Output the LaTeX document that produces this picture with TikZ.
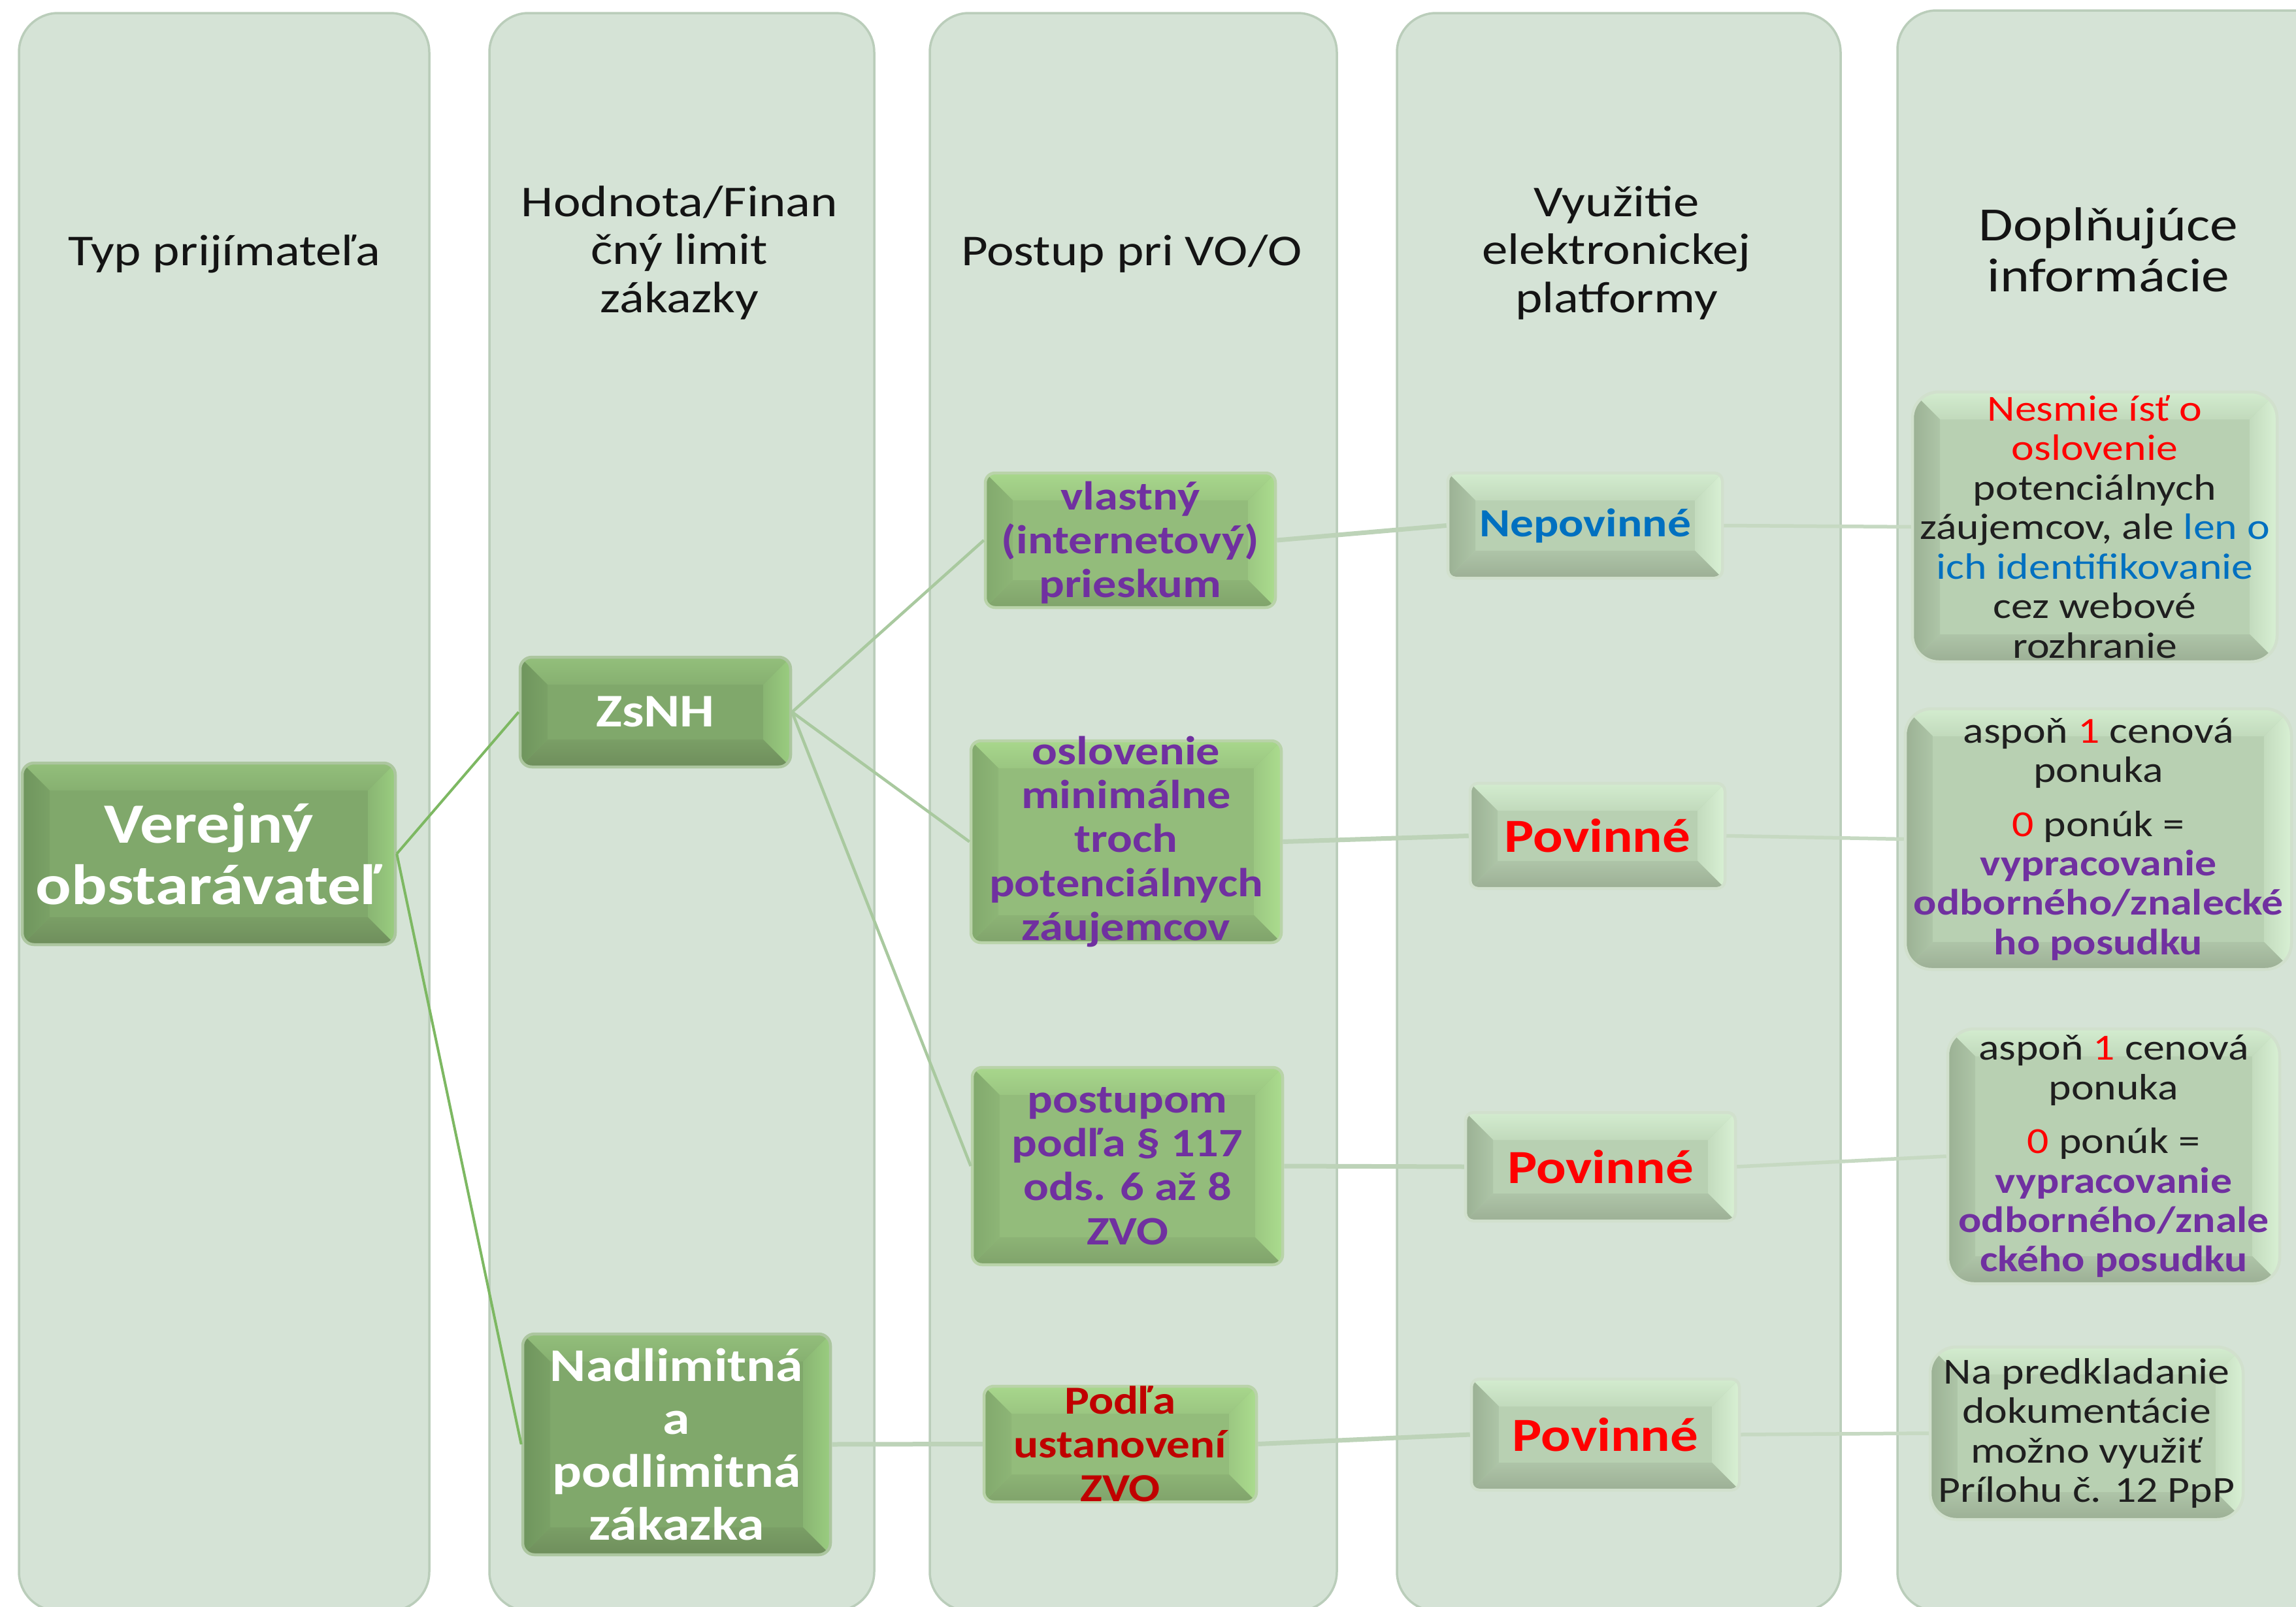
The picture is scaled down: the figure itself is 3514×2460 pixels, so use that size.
\documentclass[tikz,border=0pt]{standalone}
\usepackage{fontspec}
\setmainfont{Carlito}[FakeStretch=1.17]
\definecolor{laneC}{HTML}{D5E3D6}
\definecolor{laneE}{HTML}{BACDBA}
\definecolor{dkB}{HTML}{80A86B}
\definecolor{dkT}{HTML}{93BF7B}
\definecolor{dkR}{HTML}{9ACD80}
\definecolor{dkD}{HTML}{6F8E5C}
\definecolor{dkL}{HTML}{6F955D}
\definecolor{mdB}{HTML}{93BC7B}
\definecolor{mdT}{HTML}{A8D78C}
\definecolor{mdR}{HTML}{ABDC8E}
\definecolor{mdD}{HTML}{80A36B}
\definecolor{mdL}{HTML}{82A96D}
\definecolor{plB}{HTML}{B8D0B2}
\definecolor{plT}{HTML}{D3ECCF}
\definecolor{plR}{HTML}{D8F0D4}
\definecolor{plD}{HTML}{9CAF95}
\definecolor{plL}{HTML}{9BB194}
\definecolor{cA}{HTML}{7DB862}
\definecolor{cB}{HTML}{A9C99F}
\definecolor{cC}{HTML}{BDD3B8}
\definecolor{cD}{HTML}{C6D9C2}
\definecolor{purp}{HTML}{7030A0}
\definecolor{dred}{HTML}{C00000}
\definecolor{bl}{HTML}{0070C0}
\definecolor{rd}{HTML}{FF0000}
\newlength{\bevw}
\setlength{\bevw}{4.2mm}
\tikzset{
  lane/.style={fill=laneC, draw=laneE, line width=0.35mm, rounded corners=6mm},
  hdr/.style={align=center, text=black!92, inner sep=0pt, font=\fontsize{19.2}{21}\selectfont},
  bevbox/.style n args={6}{rounded corners=#6, fill=#1, draw=#1!65!white, line width=0.45mm,
    path picture={
      \coordinate (pNW) at (path picture bounding box.north west);
      \coordinate (pNE) at (path picture bounding box.north east);
      \coordinate (pSW) at (path picture bounding box.south west);
      \coordinate (pSE) at (path picture bounding box.south east);
      \shade[sharp corners, top color=#2, bottom color=#2!35!#1] (pNW) -- (pNE) -- ([shift={(-\bevw,-\bevw)}]pNE) -- ([shift={(\bevw,-\bevw)}]pNW) -- cycle;
      \shade[sharp corners, left color=#3!35!#1, right color=#3] (pNE) -- (pSE) -- ([shift={(-\bevw,\bevw)}]pSE) -- ([shift={(-\bevw,-\bevw)}]pNE) -- cycle;
      \shade[sharp corners, top color=#4!35!#1, bottom color=#4] (pSE) -- (pSW) -- ([shift={(\bevw,\bevw)}]pSW) -- ([shift={(-\bevw,\bevw)}]pSE) -- cycle;
      \shade[sharp corners, left color=#5, right color=#5!35!#1] (pSW) -- (pNW) -- ([shift={(\bevw,-\bevw)}]pNW) -- ([shift={(\bevw,\bevw)}]pSW) -- cycle;
    }},
  dkbox/.style={bevbox={dkB}{dkT}{dkR}{dkD}{dkL}{1.8mm}},
  mdbox/.style={bevbox={mdB}{mdT}{mdR}{mdD}{mdL}{1.5mm}},
  plbox/.style={bevbox={plB}{plT}{plR}{plD}{plL}{1.2mm}},
  infobox/.style={bevbox={plB}{plT}{plR}{plD}{plL}{4mm}},
  sz/.style 2 args={minimum width=#1mm, minimum height=#2mm, inner sep=0pt},
  wbig/.style={align=center, text=white, inner sep=0pt, font=\bfseries\fontsize{24.8}{26.7}\selectfont},
  wtx/.style={align=center, text=white, inner sep=0pt, font=\bfseries\fontsize{20.4}{23}\selectfont},
  ptx/.style={align=center, text=purp, inner sep=0pt, font=\bfseries\fontsize{17.6}{19.1}\selectfont},
  rtx/.style={align=center, text=dred, inner sep=0pt, font=\bfseries\fontsize{17.3}{19.1}\selectfont},
  btx/.style={align=center, text=bl, inner sep=0pt, font=\bfseries\fontsize{17.4}{19}\selectfont},
  povtx/.style={align=center, text=rd, inner sep=0pt, font=\bfseries\fontsize{20.7}{22}\selectfont},
  itx/.style={align=center, text=black!88, inner sep=0pt, font=\fontsize{16}{17.2}\selectfont},
  conA/.style={draw=cA, line width=0.4mm},
  conB/.style={draw=cB, line width=0.45mm},
  conC/.style={draw=cC, line width=0.7mm},
  conD/.style={draw=cD, line width=0.55mm},
}
\begin{document}
\begin{tikzpicture}[x=0.1mm,y=-0.1mm]
\useasboundingbox (0,0) rectangle (3514,2460);
\fill[white] (0,0) rectangle (3514,2460);
% lanes
\draw[lane] (29,20) rectangle (657,2466);
\draw[lane] (749,20) rectangle (1338,2466);
\draw[lane] (1423,20) rectangle (2046,2466);
\draw[lane] (2138,20) rectangle (2817,2466);
\draw[lane] (2904,16) rectangle (3620,2466);
% headers
\node[hdr] (h1) at (343,389) {Typ prijímateľa};
\node[hdr] (h2) at (1040,387) {Hodnota/Finan\\čný limit\\zákazky};
\node[hdr] (h3) at (1732,389) {Postup pri VO/O};
\node[hdr] (h4) at (2474,387) {Využitie\\elektronickej\\platformy};
\node[hdr, font=\fontsize{20.8}{22.2}\selectfont] (h5) at (3227,382) {Doplňujúce\\informácie};
% boxes
\node[dkbox, sz={57.1}{27.8}] (vo) at (319.5,1307) {};
\node[dkbox, sz={41.4}{16.8}] (zsnh) at (1003,1090) {};
\node[dkbox, sz={47.1}{33.8}] (nad) at (1035.5,2211) {};
\node[mdbox, sz={44.4}{20.6}] (vla) at (1730,827) {};
\node[mdbox, sz={47.5}{30.9}] (osl) at (1723.5,1288.5) {};
\node[mdbox, sz={47.5}{30.2}] (pos) at (1725.5,1785) {};
\node[mdbox, sz={41.7}{17.7}] (pod) at (1714.5,2210.5) {};
\node[plbox, sz={42.0}{16.1}] (nep) at (2426,804.5) {};
\node[plbox, sz={39.0}{16.1}] (pov1) at (2445,1279.5) {};
\node[plbox, sz={41.3}{16.6}] (pov2) at (2449.5,1786) {};
\node[plbox, sz={41.0}{17.0}] (pov3) at (2457,2196) {};
\node[infobox, sz={55.8}{41.3}] (inf1) at (3206,806.5) {};
\node[infobox, sz={59.1}{39.9}] (inf2) at (3211.5,1284.5) {};
\node[infobox, sz={50.8}{39.0}] (inf3) at (3235,1770) {};
\node[infobox, sz={47.9}{26.4}] (inf4) at (3193.5,2194) {};
% connectors
\draw[conA] (vo.east) -- (zsnh.west);
\draw[conA] (vo.east) -- (nad.west);
\draw[conB] (zsnh.east) -- (vla.west);
\draw[conB] (zsnh.east) -- (osl.west);
\draw[conB] (zsnh.east) -- (pos.west);
\draw[conC] (nad.east) -- (pod.west);
\draw[conC] (vla.east) -- (nep.west);
\draw[conC] (osl.east) -- (pov1.west);
\draw[conC] (pos.east) -- (pov2.west);
\draw[conC] (pod.east) -- (pov3.west);
\draw[conD] (nep.east) -- (inf1.west);
\draw[conD] (pov1.east) -- (inf2.west);
\draw[conD] (pov2.east) -- (inf3.west);
\draw[conD] (pov3.east) -- (inf4.west);
% texts
\node[wbig] (tvo) at (vo) {Verejný\\obstarávateľ};
\node[wtx] (tzs) at (zsnh) {ZsNH};
\node[wtx] (tnad) at (nad) {Nadlimitná\\a\\podlimitná\\zákazka};
\node[ptx] (tvla) at ([yshift=-0.4mm]vla.center) {vlastný\\(internetový)\\prieskum};
\node[ptx] (tosl) at (osl) {oslovenie\\minimálne\\troch\\potenciálnych\\záujemcov};
\node[ptx] (tpos) at (pos) {postupom\\podľa § 117\\ods. 6 až 8\\ZVO};
\node[rtx] (tpod) at (pod) {Podľa\\ustanovení\\ZVO};
\node[btx] (tnep) at (nep) {Nepovinné};
\node[povtx] (tp1) at (pov1) {Povinné};
\node[povtx] (tp2) at (pov2) {Povinné};
\node[povtx] (tp3) at (pov3) {Povinné};
\node[itx] (ti1) at (inf1) {\textcolor{rd}{Nesmie ísť o}\\\textcolor{rd}{oslovenie}\\potenciálnych\\záujemcov, ale \textcolor{bl}{len o}\\\textcolor{bl}{ich identifikovanie}\\cez webové\\rozhranie};
\node[itx] (ti2) at (inf2) {aspoň \textcolor{rd}{1} cenová\\ponuka\\[2.2mm]\textcolor{rd}{0} ponúk =\\\textcolor{purp}{\bfseries vypracovanie}\\\textcolor{purp}{\bfseries odborného/znalecké}\\\textcolor{purp}{\bfseries ho posudku}};
\node[itx] (ti3) at (inf3) {aspoň \textcolor{rd}{1} cenová\\ponuka\\[2.2mm]\textcolor{rd}{0} ponúk =\\\textcolor{purp}{\bfseries vypracovanie}\\\textcolor{purp}{\bfseries odborného/znale}\\\textcolor{purp}{\bfseries ckého posudku}};
\node[itx] (ti4) at (inf4) {Na predkladanie\\dokumentácie\\možno využiť\\Prílohu č. 12 PpP};
\end{tikzpicture}
\end{document}
